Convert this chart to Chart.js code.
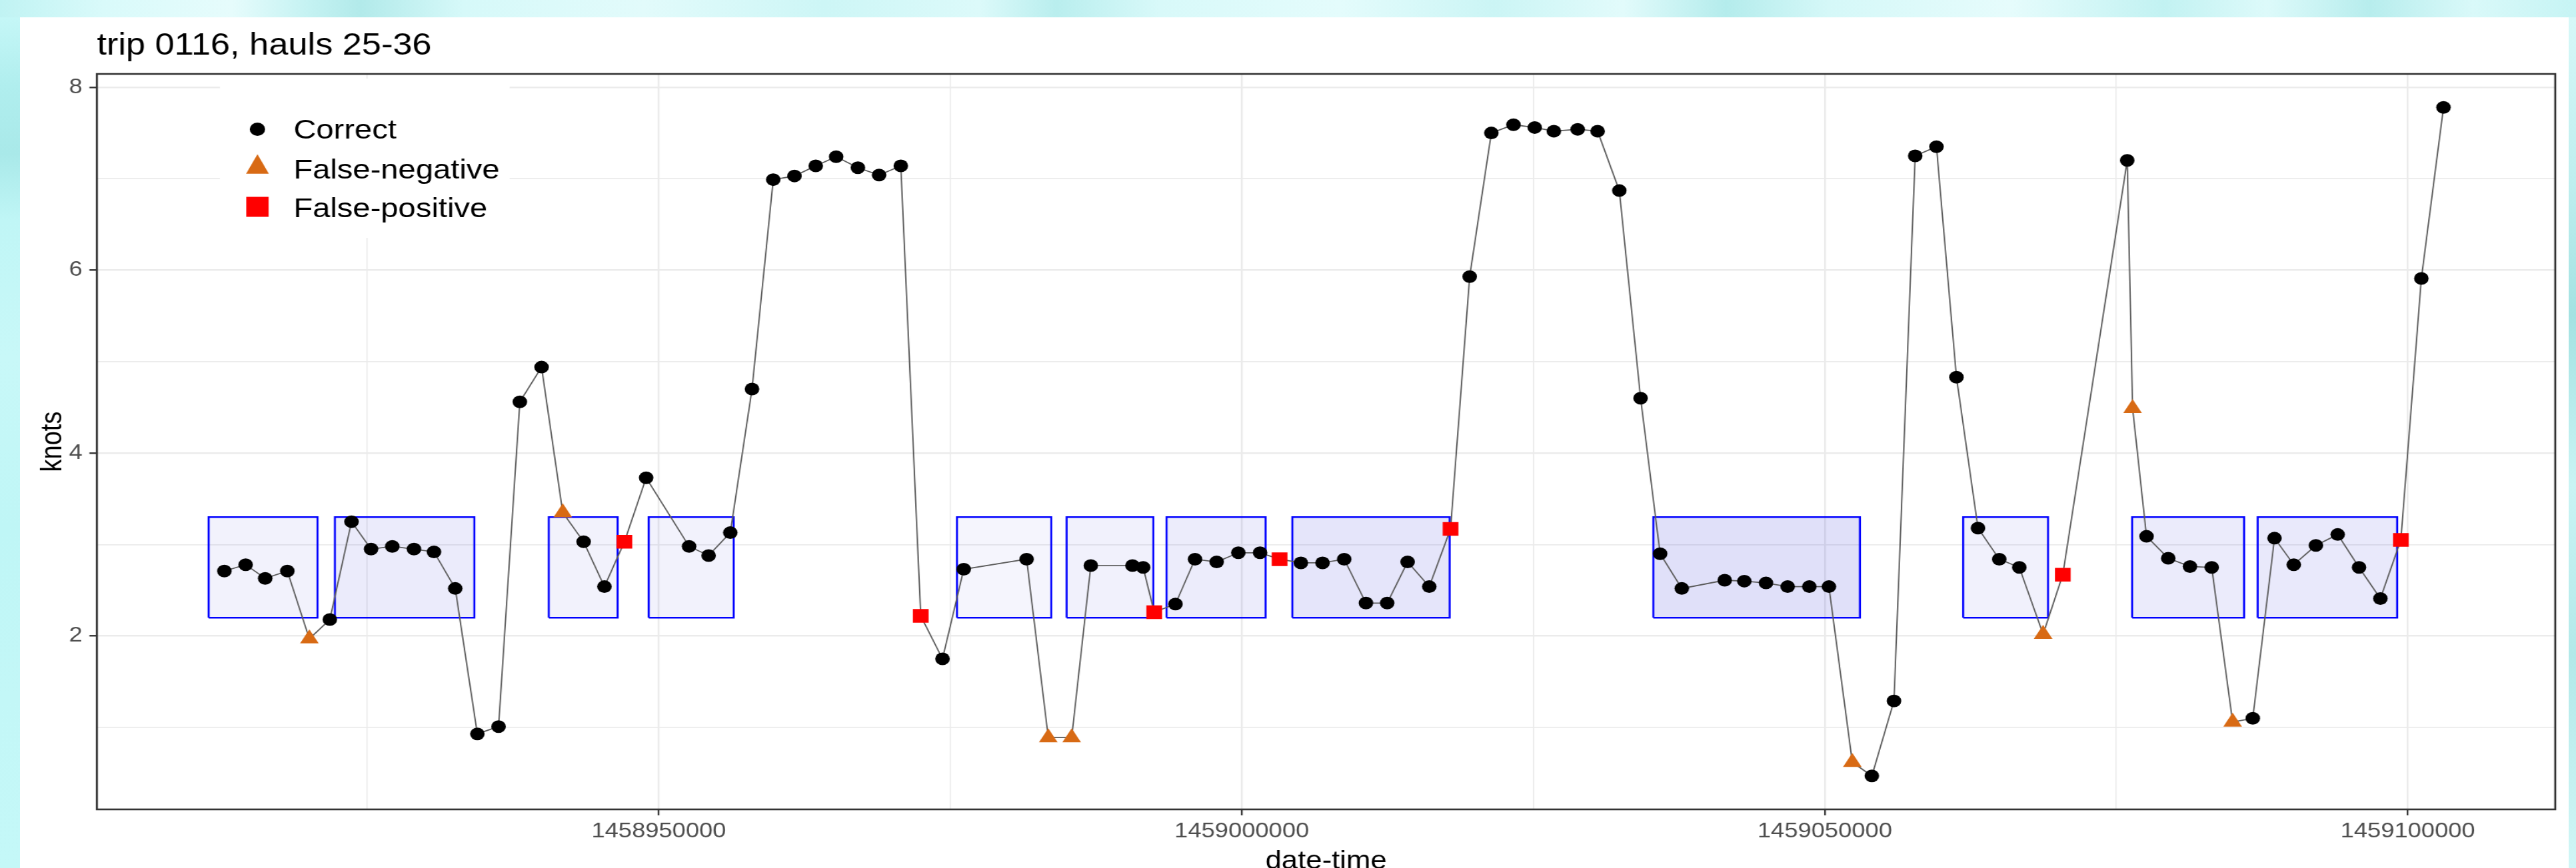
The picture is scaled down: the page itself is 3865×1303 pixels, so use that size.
<!DOCTYPE html>
<html>
<head>
<meta charset="utf-8">
<title>trip 0116, hauls 25-36</title>
<script src="https://cdn.jsdelivr.net/npm/chart.js@4.4.1/dist/chart.umd.min.js"></script>
<style>
  html, body { margin: 0; padding: 0; }
  body { width: 3865px; height: 1303px; overflow: hidden; position: relative; background: #c8f6f6; }
  .band { position: absolute; }
  #bandTop { left: 0; top: 0; width: 3865px; height: 26px;
    background: linear-gradient(90deg, #c0f3f3 0%, #d9fafa 4%, #e6fcfc 9%, #c4f2f2 12%, #b2eaea 14%, #d6f9f9 18%,
      #e2fbfb 25%, #cdf6f6 32%, #dcfafa 38%, #b9eeee 41%, #d8f9f9 45%, #e4fcfc 52%, #cbf5f5 58%, #e2fbfb 63%,
      #b4ecec 67%, #d5f8f8 71%, #e6fcfc 78%, #c2f2f2 84%, #ddfafa 88%, #b7eded 92%, #d9f9f9 96%, #c6f4f4 100%); }
  #bandLeft { left: 0; top: 26px; width: 30px; height: 1277px;
    background: linear-gradient(180deg, #c5f7f7 0%, #b0eeee 8%, #a9e9e9 16%, #c0f6f6 24%, #c8f8f8 40%,
      #bff6f6 60%, #c3f7f7 80%, #c4f8f8 100%); }
  #bandRight { left: 3854px; top: 26px; width: 11px; height: 1277px;
    background: linear-gradient(180deg, #d6f8f8 0%, #bdeeee 20%, #a3e2e2 35%, #c9f4f4 55%, #b2e9e9 75%, #d0f6f6 100%); }
  #sheet { position: absolute; left: 30px; top: 26px; width: 3824px; height: 1277px; background: #ffffff; }
  #speedChart { position: absolute; left: 0; top: 0; }
</style>
</head>
<body>
<div class="band" id="bandTop"></div>
<div class="band" id="bandLeft"></div>
<div class="band" id="bandRight"></div>
<div id="sheet"></div>
<!-- drawn on a narrower bitmap and widened by CSS, giving the wide lettering and oval dots of the printout -->
<canvas id="speedChart" width="3361" height="1303" style="width:3865px;height:1303px"></canvas>
<script>
// ---- VMS pings: epoch seconds, speed over ground (knots), classification ----
const pingTimes = [
  1458912742, 1458914566, 1458916241, 1458918139, 1458920031, 1458921786, 1458923645, 1458925320,
  1458927144, 1458929002, 1458930717, 1458932541, 1458934439, 1458936257, 1458938081, 1458939945,
  1458941763, 1458943553, 1458945336, 1458947051, 1458948915, 1458952597, 1458954272, 1458956131,
  1458957994, 1458959813, 1458961636, 1458963460, 1458965210, 1458967074, 1458968892, 1458970756,
  1458972465, 1458974329, 1458976153, 1458981544, 1458983403, 1458985409, 1458987050, 1458990624,
  1458991538, 1458992487, 1458994311, 1458995986, 1458997845, 1458999703, 1459001567, 1459003242,
  1459005066, 1459006924, 1459008782, 1459010646, 1459012470, 1459014219, 1459016077, 1459017901,
  1459019542, 1459021400, 1459023298, 1459025122, 1459026763, 1459028804, 1459030514, 1459032377,
  1459034201, 1459035876, 1459037735, 1459041416, 1459043097, 1459044956, 1459046814, 1459048672,
  1459050353, 1459052359, 1459054035, 1459055933, 1459057751, 1459059575, 1459061290, 1459063137,
  1459064961, 1459066682, 1459068723, 1459070409, 1459075938, 1459076396, 1459077591, 1459079454,
  1459081318, 1459083182, 1459084977, 1459086704, 1459088568, 1459090220, 1459092117, 1459093987,
  1459095817, 1459097647, 1459099403, 1459101162, 1459103061
];
const speedKnots = [
  2.71, 2.78, 2.63, 2.71, 1.97, 2.18, 3.25, 2.95,
  2.98, 2.95, 2.92, 2.52, 0.93, 1.01, 4.56, 4.94,
  3.35, 3.03, 2.54, 3.03, 3.73, 2.98, 2.88, 3.13,
  4.70, 6.99, 7.03, 7.14, 7.24, 7.12, 7.04, 7.14,
  2.22, 1.75, 2.73, 2.84, 0.89, 0.89, 2.77, 2.77,
  2.75, 2.26, 2.35, 2.84, 2.81, 2.91, 2.91, 2.84,
  2.80, 2.80, 2.84, 2.36, 2.36, 2.81, 2.54, 3.17,
  5.93, 7.50, 7.59, 7.56, 7.52, 7.54, 7.52, 6.87,
  4.60, 2.90, 2.52, 2.61, 2.60, 2.58, 2.54, 2.54,
  2.54, 0.62, 0.47, 1.29, 7.25, 7.35, 4.83, 3.18,
  2.84, 2.75, 2.02, 2.67, 7.20, 4.49, 3.09, 2.85,
  2.76, 2.75, 1.06, 1.10, 3.07, 2.78, 2.99, 3.11,
  2.75, 2.41, 3.05, 5.91, 7.78
];
// C = Correct, N = False-negative, P = False-positive
const pingClass = [
  'C','C','C','C','N','C','C','C',
  'C','C','C','C','C','C','C','C',
  'N','C','C','P','C','C','C','C',
  'C','C','C','C','C','C','C','C',
  'P','C','C','C','N','N','C','C',
  'C','P','C','C','C','C','C','P',
  'C','C','C','C','C','C','C','P',
  'C','C','C','C','C','C','C','C',
  'C','C','C','C','C','C','C','C',
  'C','N','C','C','C','C','C','C',
  'C','C','N','P','C','N','C','C',
  'C','C','N','C','C','C','C','C',
  'C','C','P','C','C'
];
const classCodes = ['C', 'N', 'P'];
const classNames = ['Correct', 'False-negative', 'False-positive'];

// ---- logged hauls 25-36: start / end (epoch seconds) ----
const haulNumbers = [25, 26, 27, 28, 29, 30, 31, 32, 33, 34, 35, 36];
const haulStart = [
  1458911392, 1458922221, 1458940562, 1458949133, 1458975570, 1458984975,
  1458993545, 1459004334, 1459035293, 1459061868, 1459076356, 1459087126
];
const haulEnd = [
  1458920728, 1458934182, 1458946468, 1458956422, 1458983660, 1458992413,
  1459002041, 1459017827, 1459053011, 1459069146, 1459085960, 1459099089
];
const haulSpeedBand = [2.2, 3.3];

// ---- axis ticks ----
const xMajorTicks = [1458950000, 1459000000, 1459050000, 1459100000];
const xMinorTicks = [1458925000, 1458975000, 1459025000, 1459075000];
const yMajorTicks = [2, 4, 6, 8];
const yMinorTicks = [1, 3, 5, 7];

const chartTitle = 'trip 0116, hauls 25-36';
const xAxisTitle = 'date-time';
const yAxisTitle = 'knots';

// ---- styling ----
const FONT = '"Liberation Sans", Arial, Helvetica, sans-serif';
const haulShade = [0.05, 0.08, 0.05, 0.05, 0.04, 0.055, 0.075, 0.10, 0.12, 0.055, 0.08, 0.085];
const classStyle = {
  C: { pointStyle: 'circle',   radius: 9.5,  color: '#000000' },
  N: { pointStyle: 'triangle', radius: 14,   color: '#d86a14' },
  P: { pointStyle: 'rect',     radius: 14.5, color: '#ff0000' }
};

// ggplot-style 5% expansion of the data range
function expandRange(lo, hi) {
  const pad = 0.05 * (hi - lo);
  return [lo - pad, hi + pad];
}
const [xLo, xHi] = expandRange(
  Math.min(...pingTimes, ...haulStart),
  Math.max(...pingTimes, ...haulEnd)
);
const [yLo, yHi] = expandRange(
  Math.min(...speedKnots, ...haulSpeedBand),
  Math.max(...speedKnots, ...haulSpeedBand)
);

// ---- datasets ----
const haulBoxes = haulStart.map((s, i) => {
  const e = haulEnd[i];
  const [lo, hi] = haulSpeedBand;
  return {
    label: 'haul ' + haulNumbers[i],
    data: [{x: s, y: lo}, {x: s, y: hi}, {x: e, y: hi}, {x: e, y: lo}, {x: s, y: lo}],
    showLine: true,
    fill: 'shape',
    backgroundColor: 'rgba(0,0,205,' + haulShade[i] + ')',
    borderColor: '#0000ff',
    borderWidth: 2.6,
    borderJoinStyle: 'miter',
    pointRadius: 0,
    pointHoverRadius: 0,
    order: 4
  };
});

const track = {
  label: 'track',
  data: pingTimes.map((t, i) => ({x: t, y: speedKnots[i]})),
  showLine: true,
  fill: false,
  borderColor: '#5a5a5a',
  borderWidth: 1.8,
  pointRadius: 0,
  pointHoverRadius: 0,
  order: 3
};

const pingSets = classCodes.map((code, k) => {
  const st = classStyle[code];
  return {
    label: classNames[k],
    data: pingTimes
      .map((t, i) => ({x: t, y: speedKnots[i], c: pingClass[i]}))
      .filter(p => p.c === code),
    showLine: false,
    pointStyle: st.pointStyle,
    pointRadius: st.radius,
    pointHoverRadius: st.radius,
    pointBackgroundColor: st.color,
    pointBorderColor: st.color,
    pointBorderWidth: 0,
    order: code === 'C' ? 2 : 1
  };
});

// ---- panel frame, title, axis titles and key ----
function drawKeySymbol(ctx, code, cx, cy) {
  const col = classStyle[code].color;
  ctx.fillStyle = col;
  ctx.beginPath();
  if (code === 'C') {
    ctx.arc(cx, cy, 10, 0, Math.PI * 2);
  } else if (code === 'N') {
    ctx.moveTo(cx, cy - 19.5);
    ctx.lineTo(cx + 14.8, cy + 9.8);
    ctx.lineTo(cx - 14.8, cy + 9.8);
    ctx.closePath();
  } else {
    ctx.rect(cx - 14.6, cy - 15, 29.2, 30);
  }
  ctx.fill();
}

const frameAndLabels = {
  id: 'frameAndLabels',
  afterDraw(chart) {
    const {ctx, chartArea: a} = chart;
    ctx.save();

    // panel border
    ctx.strokeStyle = '#333333';
    ctx.lineWidth = 2.6;
    ctx.strokeRect(a.left, a.top, a.right - a.left, a.bottom - a.top);

    // title
    ctx.fillStyle = '#000000';
    ctx.textAlign = 'left';
    ctx.textBaseline = 'alphabetic';
    ctx.font = '45.5px ' + FONT;
    ctx.fillText(chartTitle, a.left, a.top - 29);

    // axis titles
    ctx.font = '38px ' + FONT;
    ctx.textAlign = 'center';
    ctx.fillText(xAxisTitle, (a.left + a.right) / 2, a.bottom + 89);
    ctx.save();
    ctx.translate(a.left - 46.5, (a.top + a.bottom) / 2);
    ctx.rotate(-Math.PI / 2);
    ctx.fillText(yAxisTitle, 0, 0);
    ctx.restore();

    // key inside the panel
    const kx = a.left + 160.5, ky = a.top + 7;
    ctx.fillStyle = '#ffffff';
    ctx.fillRect(kx, ky, 378, 239);
    const symX = kx + 49, txtX = kx + 96;
    const rows = [ky + 90, ky + 150, ky + 208];
    const symY = [ky + 76, ky + 133, ky + 192.5];
    ctx.font = '41px ' + FONT;
    ctx.textAlign = 'left';
    classCodes.forEach((code, k) => {
      drawKeySymbol(ctx, code, symX, symY[k]);
      ctx.fillStyle = '#000000';
      ctx.fillText(classNames[k], txtX, rows[k]);
    });

    ctx.restore();
  }
};

Chart.defaults.font.family = FONT;

new Chart(document.getElementById('speedChart'), {
  type: 'scatter',
  data: { datasets: [...haulBoxes, track, ...pingSets] },
  options: {
    responsive: false,
    devicePixelRatio: 1,
    animation: false,
    events: [],
    layout: { padding: { left: 0, right: 27.1, top: 111, bottom: 0 } },
    plugins: {
      legend: { display: false },
      tooltip: { enabled: false },
      title: { display: false }
    },
    elements: { line: { tension: 0 } },
    scales: {
      x: {
        type: 'linear',
        min: xLo,
        max: xHi,
        afterBuildTicks(scale) {
          scale.ticks = [...xMajorTicks, ...xMinorTicks].sort((p, q) => p - q).map(v => ({value: v}));
        },
        afterFit(scale) { scale.height = 88; },
        border: { display: false },
        grid: {
          color: '#ebebeb',
          lineWidth: c => (c.tick && xMajorTicks.includes(c.tick.value)) ? 2.4 : 1.6,
          drawTicks: true,
          tickLength: 9,
          tickWidth: 2.2,
          tickColor: c => (c.tick && xMajorTicks.includes(c.tick.value)) ? '#333333' : 'rgba(0,0,0,0)'
        },
        ticks: {
          autoSkip: false,
          maxRotation: 0,
          padding: 5.5,
          color: '#4d4d4d',
          font: { size: 31.6 },
          callback: v => xMajorTicks.includes(v) ? String(v) : ''
        }
      },
      y: {
        type: 'linear',
        min: yLo,
        max: yHi,
        afterBuildTicks(scale) {
          scale.ticks = [...yMajorTicks, ...yMinorTicks].sort((p, q) => p - q).map(v => ({value: v}));
        },
        afterFit(scale) { scale.width = 126.4; },
        border: { display: false },
        grid: {
          color: '#ebebeb',
          lineWidth: c => (c.tick && yMajorTicks.includes(c.tick.value)) ? 2.6 : 1.8,
          drawTicks: true,
          tickLength: 9.8,
          tickWidth: 2.4,
          tickColor: c => (c.tick && yMajorTicks.includes(c.tick.value)) ? '#333333' : 'rgba(0,0,0,0)'
        },
        ticks: {
          autoSkip: false,
          padding: 9,
          color: '#4d4d4d',
          font: { size: 31.6 },
          callback: v => yMajorTicks.includes(v) ? String(v) : ''
        }
      }
    }
  },
  plugins: [frameAndLabels]
});
</script>
</body>
</html>
